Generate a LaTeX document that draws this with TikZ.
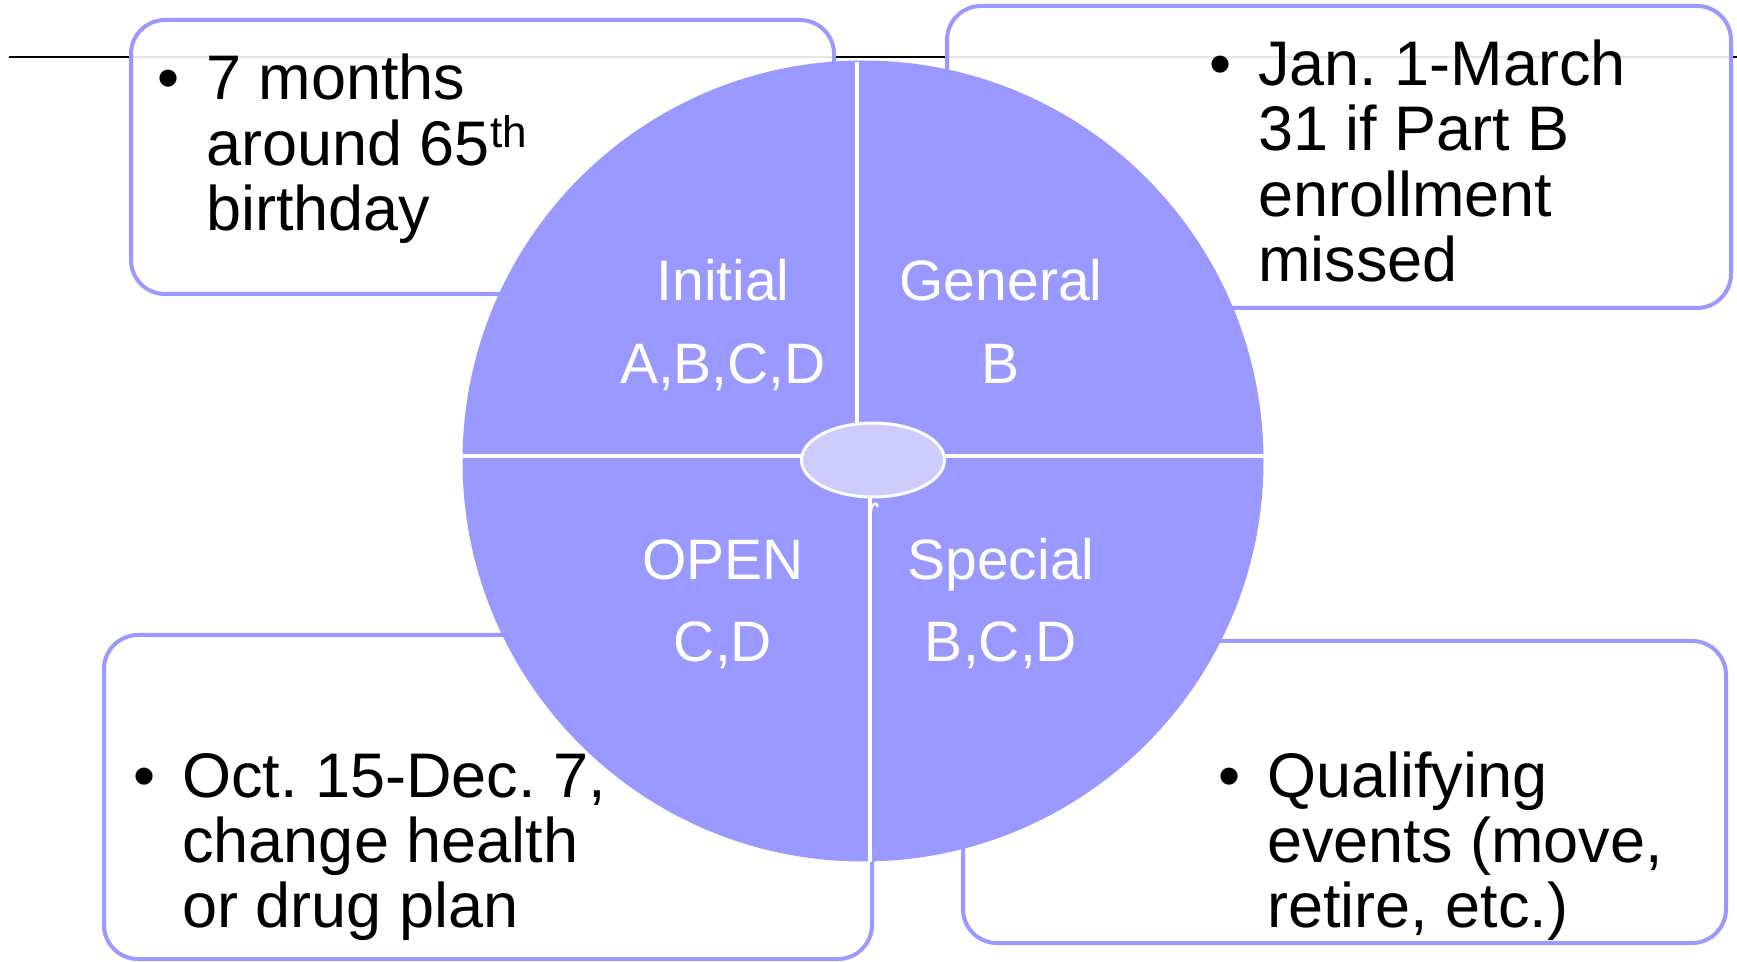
\documentclass[tikz,border=0pt]{standalone}
\usepackage{fontspec}
\setmainfont{Liberation Sans}
\usetikzlibrary{shapes.geometric}
\definecolor{wheelblue}{HTML}{9999FF}
\definecolor{hubblue}{HTML}{CCCCFF}
\newcommand{\infobullet}{\llap{\textbullet\hspace{13.5pt}}}
\frenchspacing

\begin{document}
\begin{tikzpicture}
[x=0.5pt,y=-0.5pt,
infobox/.style={draw=wheelblue,line width=2pt,fill=white,fill opacity=0.9,rounded corners=17pt,inner sep=0pt},
infotext/.style={anchor=base west,align=left,inner sep=0pt,font=\fontsize{31.5pt}{32.75pt}\selectfont},
wheellabel/.style={anchor=base,align=center,inner sep=0pt,text=white,font=\fontsize{28.5pt}{41.5pt}\selectfont},
divider/.style={white,line width=2.4pt},
]
\useasboundingbox (0,0) rectangle (1737,962);

% rule behind the boxes
\coordinate (ruleL) at (9,57);
\coordinate (ruleR) at (1737,57);
\draw[line width=1pt] (ruleL) -- (ruleR);

% the four boxes
\node[infobox,minimum width=351.5pt,minimum height=137pt] (initialbox) at (482.5,157) {};
\node[infobox,minimum width=392pt,minimum height=151pt] (generalbox) at (1339,157) {};
\node[infobox,minimum width=384pt,minimum height=162pt] (openbox) at (488,797) {};
\node[infobox,minimum width=381.5pt,minimum height=151pt] (specialbox) at (1344.5,792) {};

% wheel
\node[circle,fill=wheelblue,minimum size=400.5pt,inner sep=0pt] (wheel) at (863,461) {};
\draw[divider] (857,62) -- (857,430);
\draw[divider] (870,490) -- (870,862);
\draw[divider] (462,456) -- (1264,456);
\node[ellipse,draw=white,line width=1.5pt,fill=hubblue,minimum width=71.5pt,minimum height=37pt,inner sep=0pt] (hub) at (873,460) {};
\draw[white,line width=1.2pt] (871,512) .. controls (871,503) and (877,501) .. (878,507);

% base anchor = last line
\node[wheellabel] (initial) at (723,384) {Initial\\A,B,C,D};
\node[wheellabel] (general) at (1001,384) {General\\B};
\node[wheellabel] (open) at (723,662) {OPEN\\C,D};
\node[wheellabel] (special) at (1001,662) {Special\\B,C,D};

% box texts
\node[infotext] (initialtext) at (206,231) {\infobullet 7 months\\around 65\textsuperscript{th}\\birthday};
\node[infotext] (generaltext) at (1258,282) {\infobullet Jan. 1-March\\31 if Part B\\enrollment\\missed};
\node[infotext] (opentext) at (182,928) {\infobullet Oct. 15-Dec. 7,\\change health\\or drug plan};
\node[infotext] (specialtext) at (1267,928) {\infobullet Qualifying\\events (move,\\retire, etc.)};
\end{tikzpicture}
\end{document}
